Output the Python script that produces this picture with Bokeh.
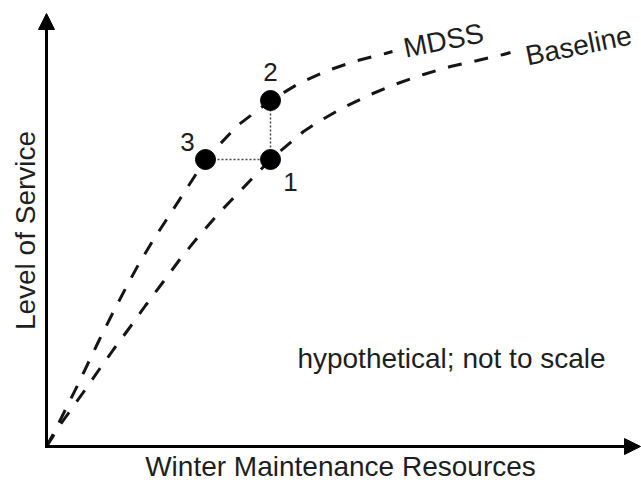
from bokeh.plotting import figure
from bokeh.models import Range1d, Arrow, NormalHead, Label
from bokeh.embed import file_html
from bokeh.resources import INLINE

# Hypothetical curves (arbitrary units)
mdss_x = [0, 6, 19, 31, 41, 52, 66, 79, 92, 107, 126, 159, 191, 224, 254, 284, 311, 339, 346]
mdss_y = [0, 11, 37, 61, 82, 105, 133, 158, 182, 207, 236, 287, 321, 346, 364, 377, 386, 393, 395]

base_x = [0, 16, 36, 52, 67, 84, 99, 117, 134, 152, 172, 224, 257, 274, 297, 324, 351, 377, 404, 431, 457, 464]
base_y = [0, 25, 53, 76, 97, 120, 141, 165, 188, 210, 233, 287, 315, 326, 339, 352, 363, 372, 380, 386, 392, 394]

point_names = ["1", "2", "3"]
point_x = [224, 224, 159]
point_y = [287, 346, 287]

FONT = "Liberation Sans"
TXT = "#1e1e1e"
FS = "28px"

p = figure(width=641, height=483, x_range=Range1d(-46, 595), y_range=Range1d(-37, 446),
           output_backend="svg", toolbar_location=None, min_border=0,
           x_axis_type=None, y_axis_type=None, outline_line_color=None)
p.grid.visible = False

# axes with arrows
p.add_layout(Arrow(end=NormalHead(size=16, fill_color="black", line_color="black", line_width=1),
                   x_start=0, y_start=0, x_end=0, y_end=433, line_width=3, line_color="black",
                   line_cap="square"))
p.add_layout(Arrow(end=NormalHead(size=16, fill_color="black", line_color="black", line_width=1),
                   x_start=0, y_start=0, x_end=594, y_end=0, line_width=3, line_color="black",
                   line_cap="square"))

# curves
p.line(mdss_x, mdss_y, line_width=3, line_color="#151515", line_dash="14 13")
p.line(base_x, base_y, line_width=3, line_color="#151515", line_dash="14 13")

# dotted connectors: 3 -> 1 and 1 -> 2
p.segment(x0=[point_x[2], point_x[0]], y0=[point_y[2], point_y[0]],
          x1=[point_x[0], point_x[1]], y1=[point_y[0], point_y[1]],
          line_width=1.5, line_color="#444444", line_dash="2 2")

p.scatter(point_x, point_y, size=20, color="black")

offsets = {"1": (20, -22), "2": (0, 29), "3": (-18, 18)}
for name, x, y in zip(point_names, point_x, point_y):
    dx, dy = offsets[name]
    p.add_layout(Label(x=x, y=y, x_offset=dx, y_offset=dy, text=name, text_font=FONT,
                       text_font_size="26px", text_color=TXT,
                       text_align="center", text_baseline="middle"))

p.add_layout(Label(x=mdss_x[-1], y=mdss_y[-1], x_offset=51, y_offset=11, text="MDSS",
                   angle=0.2, text_font=FONT, text_font_size=FS, text_color=TXT,
                   text_align="center", text_baseline="middle"))
p.add_layout(Label(x=base_x[-1], y=base_y[-1], x_offset=68, y_offset=7, text="Baseline",
                   angle=0.2, text_font=FONT, text_font_size=FS, text_color=TXT,
                   text_align="center", text_baseline="middle"))

p.add_layout(Label(x=405, y=88, text="hypothetical; not to scale", text_font=FONT,
                   text_font_size=FS, text_color=TXT,
                   text_align="center", text_baseline="middle"))
p.add_layout(Label(x=294, y=-20, text="Winter Maintenance Resources", text_font=FONT,
                   text_font_size=FS, text_color=TXT,
                   text_align="center", text_baseline="middle"))
p.add_layout(Label(x=-21, y=216, text="Level of Service", angle=1.5708, text_font=FONT,
                   text_font_size=FS, text_color=TXT,
                   text_align="center", text_baseline="middle"))

open("out.html", "w").write(file_html(p, INLINE))
